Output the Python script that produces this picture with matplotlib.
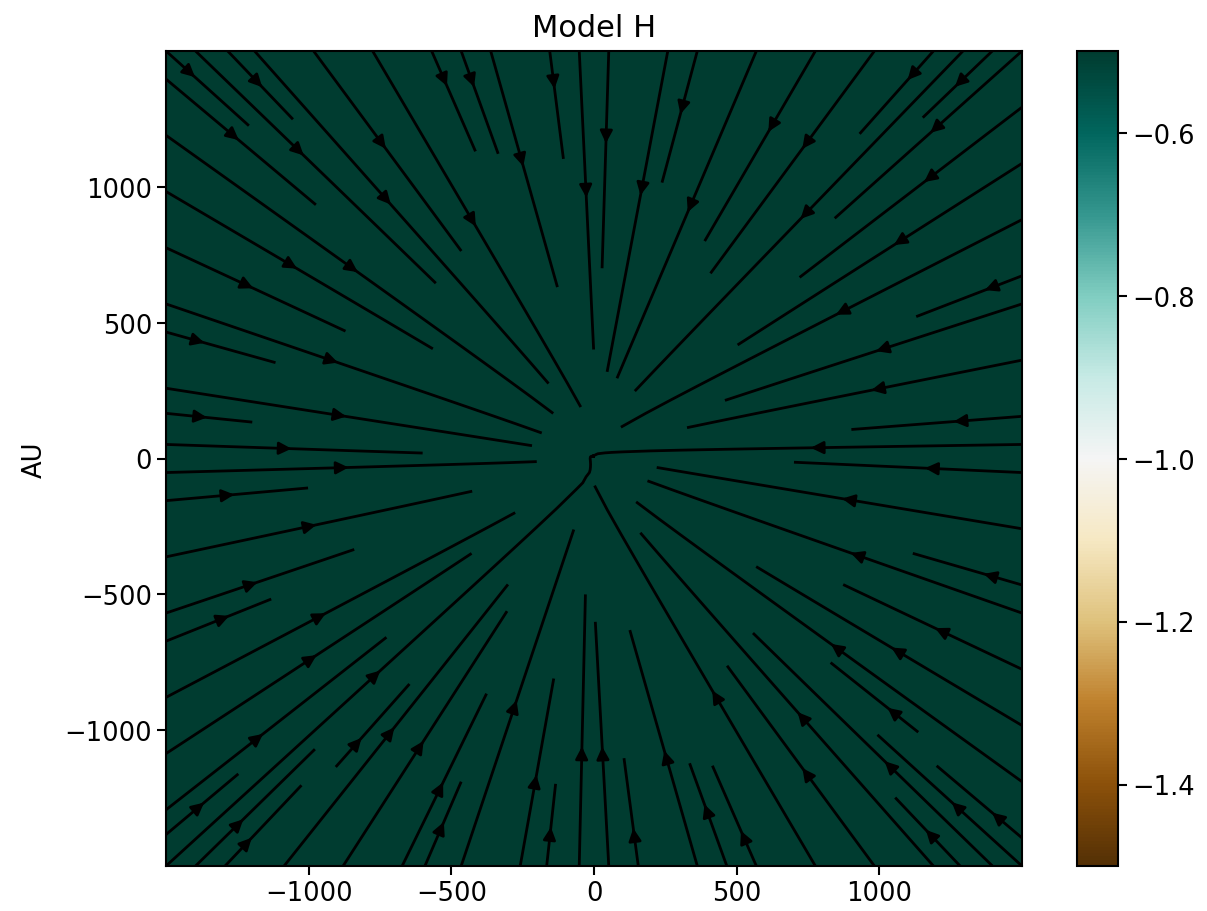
import numpy as np
import matplotlib
matplotlib.use("Agg")
import matplotlib.pyplot as plt

# --- model parameters (rotating collapse seen in the meridional plane) ---
extent_au = 1500.0          # half-width of the box [AU]
r_centrifugal = 120.0       # centrifugal radius [AU]
axis_tilt_deg = -8.0        # rotation axis angle from the x axis [deg]
center_au = (-5.0, 10.0)    # position of the protostar [AU]
n_stream = 300              # grid points per side for the stream field
n_map = 401                 # grid points per side for the colour map
map_level = -0.5            # colour-map value over the envelope
core_level = -1.0           # colour-map value in the central cell
cbar_range = (-1.5, -0.5)
cbar_ticks = [-1.4, -1.2, -1.0, -0.8, -0.6]
ticks_au = [-1000, -500, 0, 500, 1000]


def ulrich_direction(x, y, rc, tilt, x0, y0):
    """Direction of the infall velocity in the meridional plane."""
    t = np.deg2rad(tilt)
    # rotate into the frame where the rotation axis lies along +x
    xr = (x - x0) * np.cos(t) + (y - y0) * np.sin(t)
    yr = -(x - x0) * np.sin(t) + (y - y0) * np.cos(t)
    r = np.hypot(xr, yr)
    mu = xr / r                      # cos(theta)
    sin_t = np.abs(yr) / r
    rho = r / rc
    a = np.abs(mu)
    # solve c^3 + (rho - 1) c - rho*a = 0 for c in [a, 1] by bisection
    lo, hi = a.copy(), np.ones_like(a)
    for _ in range(60):
        mid = 0.5 * (lo + hi)
        f = mid**3 + (rho - 1.0) * mid - rho * a
        hi = np.where(f > 0, mid, hi)
        lo = np.where(f > 0, lo, mid)
    mu0 = np.sign(mu) * 0.5 * (lo + hi)
    vt = (mu0 - mu) / np.maximum(sin_t, 1e-9)
    sgn = np.where(yr >= 0, 1.0, -1.0)
    ux = -xr / r - vt * sin_t
    uy = -yr / r + vt * mu * sgn
    # back to the sky frame
    return (ux * np.cos(t) - uy * np.sin(t),
            ux * np.sin(t) + uy * np.cos(t))


xs = np.linspace(-extent_au, extent_au, n_stream)
X, Y = np.meshgrid(xs, xs)
U, V = ulrich_direction(X, Y, r_centrifugal, axis_tilt_deg, *center_au)

xm = np.linspace(-extent_au, extent_au, n_map)
XM, YM = np.meshgrid(xm, xm)
RM = np.hypot(XM - center_au[0], YM - center_au[1])
field = np.full(XM.shape, map_level)
field[RM == RM.min()] = core_level

plt.rcParams["axes.linewidth"] = 1.5
fig = plt.figure(figsize=(12.07, 9.12), dpi=100)
ax = fig.add_axes([166 / 1207, 45 / 912, 856 / 1207, 815 / 912])
cax = fig.add_axes([1077 / 1207, 45 / 912, 41 / 1207, 815 / 912])

mesh = ax.pcolormesh(XM, YM, field, cmap="BrBG",
                     vmin=cbar_range[0], vmax=cbar_range[1], shading="auto")
ax.streamplot(X, Y, U, V, color="k", linewidth=2.0, arrowsize=1.85,
              density=1)
ax.set_xlim(-extent_au, extent_au)
ax.set_ylim(-extent_au, extent_au)
ax.set_xticks(ticks_au)
ax.set_yticks(ticks_au)
ax.tick_params(labelsize=18.5, length=6.5, width=1.5)
ax.set_ylabel("AU", fontsize=18.5, labelpad=12)
ax.set_title("Model H", fontsize=22, pad=11)

cb = fig.colorbar(mesh, cax=cax)
cb.set_ticks(cbar_ticks)
cb.ax.tick_params(labelsize=18.5, length=6.5, width=1.5)
cb.outline.set_linewidth(1.5)

fig.savefig("out.png", dpi=100)
